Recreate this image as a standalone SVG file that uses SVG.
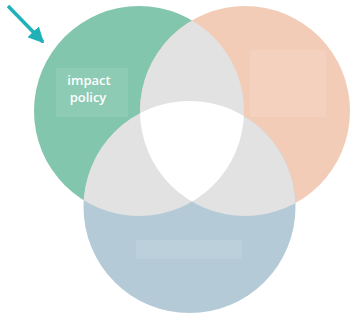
<svg xmlns="http://www.w3.org/2000/svg" width="354" height="321" viewBox="0 0 354 321">
  <style>
    .lbl { font-family: "Open Sans", "Liberation Sans", sans-serif; font-size: 13px; font-weight: 600; fill: #ffffff; text-anchor: middle; }
    .box { fill: #ffffff; fill-opacity: 0.1; }
    .pair { fill: #e2e2e2; }
  </style>
  <defs>
    <clipPath id="cG"><circle cx="139" cy="111" r="105"/></clipPath>
    <clipPath id="cO"><circle cx="245" cy="111" r="105"/></clipPath>
    <clipPath id="cB"><circle cx="189.5" cy="207" r="106"/></clipPath>
    <marker id="ah" viewBox="0 0 10 10" refX="9" refY="5" markerWidth="4.5" markerHeight="4.5" orient="auto" markerUnits="strokeWidth">
      <path d="M0,0 L10,5 L0,10 z" fill="#1fb0b8"/>
    </marker>
  </defs>
  <rect width="354" height="321" fill="#ffffff"/>
  <g id="green">
    <circle cx="139" cy="111" r="105" fill="#82c6ad"/>
  </g>
  <g id="orange">
    <circle cx="245" cy="111" r="105" fill="#f3ccb8"/>
  </g>
  <g id="blue">
    <circle cx="189.5" cy="207" r="106" fill="#b4cbd7"/>
  </g>
  <g id="overlaps">
    <circle class="pair" cx="245" cy="111" r="105" clip-path="url(#cG)"/>
    <circle class="pair" cx="189.5" cy="207" r="106" clip-path="url(#cG)"/>
    <circle class="pair" cx="189.5" cy="207" r="106" clip-path="url(#cO)"/>
    <g clip-path="url(#cB)">
      <circle cx="245" cy="111" r="105" fill="#ffffff" clip-path="url(#cG)"/>
    </g>
  </g>
  <g id="label-green">
    <rect class="box" x="56" y="68" width="72" height="49"/>
    <text class="lbl" x="89" y="85">impact</text>
    <text class="lbl" x="88" y="102">policy</text>
  </g>
  <g id="label-orange">
    <rect class="box" x="250" y="50" width="76" height="67"/>
  </g>
  <g id="label-blue">
    <rect class="box" x="136" y="240" width="106" height="19"/>
  </g>
  <g id="connectors">
    <line x1="8" y1="6" x2="43" y2="42" stroke="#1fb0b8" stroke-width="3.5" marker-end="url(#ah)"/>
  </g>
</svg>
